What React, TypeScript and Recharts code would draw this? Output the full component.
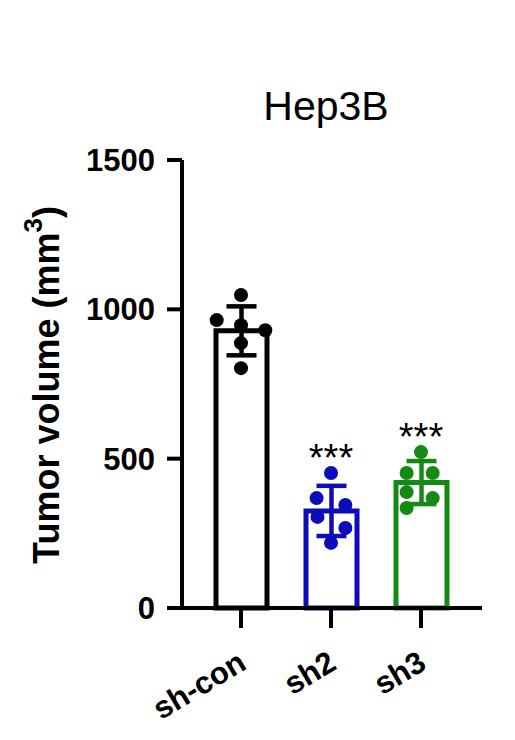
import React from 'react';
import { ComposedChart, Bar, Scatter, XAxis, YAxis, ErrorBar, ReferenceDot, Label } from 'recharts';

const groups = ['sh-con', 'sh2', 'sh3'];
const groupColors = ['#000000', '#0c0cb8', '#148a14'];
const means = [928, 325, 420];
const sds = [82, 84, 72];
const conPoints = [1048, 964, 947, 930, 887, 803];
const sh2Points = [452, 368, 345, 305, 268, 218];
const sh3Points = [522, 452, 452, 388, 368, 335];
// horizontal spread of the dots inside each group, in category units
const conJitter = [0, -0.27, 0, 0.27, 0, 0];
const sh2Jitter = [0, -0.16, 0.16, -0.15, 0.16, 0];
const sh3Jitter = [0, -0.16, 0.13, -0.16, 0.13, -0.16];
const sigMarks = ['', '***', '***'];
const yTicks = [0, 500, 1000, 1500];

const pointSets = [conPoints, sh2Points, sh3Points];
const jitters = [conJitter, sh2Jitter, sh3Jitter];

const rows = groups.map((name, i) => ({ name, [`m${i}`]: means[i], [`e${i}`]: sds[i] }));

const font = '"Liberation Sans", Arial, sans-serif';
const pad = { left: 14, right: 16 };

const XTick = (props: any) => {
    const { x, y, payload } = props;
    return (
        <g transform={`translate(${x + 7},${y + 38})`}>
            <text textAnchor="end" transform="rotate(-31)" fill="#000"
                fontSize={31} fontWeight={700} fontFamily={font}>
                {payload.value}
            </text>
        </g>
    );
};

const YLabel = (props: any) => {
    const vb = props.viewBox || { x: 32, y: 160, width: 150, height: 448 };
    const cx = vb.x + 27;
    const cy = vb.y + vb.height / 2 + 1;
    return (
        <text x={cx} y={cy} textAnchor="middle" transform={`rotate(-90, ${cx}, ${cy})`}
            fill="#000" fontSize={36} fontWeight={700} fontFamily={font}>
            Tumor volume (mm<tspan fontSize={26} dy={-17}>3</tspan><tspan dy={17}>)</tspan>
        </text>
    );
};

const App: React.FC = () => {
    return (
        <div style={{ position: 'absolute', left: 0, top: 0, width: 515, height: 740, background: '#fff' }}>
            <div style={{
                position: 'absolute', left: 0, top: 86, width: 652, textAlign: 'center',
                fontFamily: font, fontSize: 41, lineHeight: '41px', color: '#000'
            }}>
                Hep3B
            </div>
            <ComposedChart width={515} height={740} data={rows}
                margin={{ top: 160, right: 33, left: 32, bottom: 32 }}>
                <XAxis dataKey="name" padding={pad} height={100} tickSize={20} interval={0}
                    axisLine={{ stroke: '#000', strokeWidth: 4 }}
                    tickLine={{ stroke: '#000', strokeWidth: 4 }}
                    tick={<XTick />} />
                <XAxis xAxisId="pts" type="number" dataKey="x" domain={[-0.5, 2.5]} padding={pad} hide />
                <YAxis domain={[0, 1500]} ticks={yTicks} width={150} tickSize={15} tickMargin={12} interval={0}
                    axisLine={{ stroke: '#000', strokeWidth: 4 }}
                    tickLine={{ stroke: '#000', strokeWidth: 4 }}
                    tick={{ fill: '#000', fontSize: 31, fontWeight: 700, fontFamily: font }}>
                    <Label content={YLabel} />
                </YAxis>
                {groups.map((g, i) => (
                    <Bar key={g} dataKey={`m${i}`} stackId="s" barSize={51} fill="#fff"
                        stroke={groupColors[i]} strokeWidth={5} isAnimationActive={false}>
                        <ErrorBar dataKey={`e${i}`} width={15} stroke={groupColors[i]} strokeWidth={4.5} direction="y" />
                    </Bar>
                ))}
                {pointSets.map((pts, i) => (
                    <Scatter key={groups[i]} xAxisId="pts" dataKey="y" fill={groupColors[i]}
                        data={pts.map((v, k) => ({ x: i + jitters[i][k], y: v }))}
                        shape={(p: any) => <circle cx={p.cx} cy={p.cy} r={7} fill={groupColors[i]} />}
                        isAnimationActive={false} />
                ))}
                {groups.map((g, i) => sigMarks[i] ? (
                    <ReferenceDot key={g} x={g} y={Math.max(...pointSets[i])} r={0}
                        fill="none" stroke="none"
                        label={{ value: sigMarks[i], position: 'top', offset: 2, fontSize: 38, fill: '#000', fontFamily: font }} />
                ) : null)}
            </ComposedChart>
        </div>
    );
};

export default App;
